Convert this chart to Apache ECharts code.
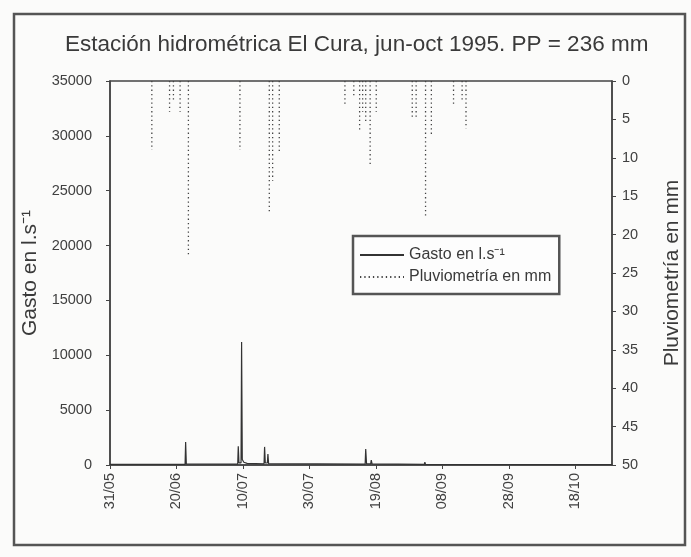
<!DOCTYPE html>
<html>
<head>
<meta charset="utf-8">
<title>Estación hidrométrica El Cura</title>
<script src="https://cdn.jsdelivr.net/npm/echarts@6/dist/echarts.min.js"></script>
<style>
    html, body { margin: 0; padding: 0; background: #efefef; }
    #chart { width: 691px; height: 557px; }
</style>
</head>
<body>
<div id="chart"></div>
<script>
/**
 * Datos
 */
const diasTotal = 151;

// Gasto en l/s
const fechasGasto = [
    '1995-05-31 00:00', '1995-06-22 14:00', '1995-06-22 18:00', '1995-06-22 23:00',
    '1995-07-08 10:00', '1995-07-08 14:00', '1995-07-08 19:00', '1995-07-09 10:00', '1995-07-09 14:00',
    '1995-07-09 19:00', '1995-07-10 06:00', '1995-07-11 06:00',
    '1995-07-16 08:00', '1995-07-16 12:00', '1995-07-16 17:00', '1995-07-17 08:00', '1995-07-17 12:00', '1995-07-17 17:00',
    '1995-08-15 18:00', '1995-08-15 22:00', '1995-08-16 04:00', '1995-08-17 10:00', '1995-08-17 14:00', '1995-08-17 20:00',
    '1995-09-02 13:00', '1995-09-02 17:00', '1995-09-02 22:00', '1995-10-29 00:00'
];
const gasto = [
    60, 60, 2100, 90,
    80, 1700, 200, 200, 11200,
    500, 250, 150,
    100, 1650, 200, 180, 1000, 120,
    80, 1450, 120, 110, 450, 100,
    60, 250, 50, 30
];

// Pluviometría en mm
const fechasLluvia = [
    '1995-06-12 14:00', '1995-06-17 22:00', '1995-06-19 02:00', '1995-06-21 02:00', '1995-06-23 14:00',
    '1995-07-09 02:00', '1995-07-17 22:00', '1995-07-18 22:00', '1995-07-20 22:00',
    '1995-08-09 16:00', '1995-08-12 08:00', '1995-08-14 02:00', '1995-08-15 00:00', '1995-08-15 22:00',
    '1995-08-17 06:00', '1995-08-19 02:00',
    '1995-08-29 22:00', '1995-08-31 02:00', '1995-09-02 22:00', '1995-09-04 16:00',
    '1995-09-11 08:00', '1995-09-13 22:00', '1995-09-15 02:00'
];
const lluvia = [
    9.0, 4.0, 2.6, 4.0, 22.7,
    9.0, 17.0, 13.0, 9.2,
    3.0, 2.0, 6.6, 4.0, 5.2,
    11.2, 4.0,
    5.0, 5.0, 17.5, 7.2,
    3.2, 2.5, 6.2
];

const xTicks = { min: 0, max: diasTotal, interval: 20 };

const DIA = 86400000;
const t0 = Date.UTC(1995, 4, 31);

// días desde el 31/05
function dias(s) {
    const [f, h] = s.split(' ');
    const [y, m, d] = f.split('-').map(Number);
    const [hh, mm] = (h || '00:00').split(':').map(Number);
    return (Date.UTC(y, m - 1, d, hh, mm) - t0) / DIA;
}

function etiquetaFecha(v) {
    if (v % 20 !== 0) return '';
    const d = new Date(t0 + v * DIA);
    const dd = String(d.getUTCDate()).padStart(2, '0');
    const mm = String(d.getUTCMonth() + 1).padStart(2, '0');
    return dd + '/' + mm;
}

const gastoData = fechasGasto.map((f, i) => [dias(f), gasto[i]]);

// cada evento de lluvia: línea vertical desde 0 hasta el valor
const lluviaData = [];
fechasLluvia.forEach((f, i) => {
    const x = dias(f);
    lluviaData.push([x, 0], [x, lluvia[i]], [x, '-']);
});

const font = 'Liberation Sans, Arial, sans-serif';
const gris = '#404040';

const option = {
    backgroundColor: '#fbfbfa',
    animation: false,
    textStyle: { fontFamily: font },
    graphic: [
        {
            type: 'rect',
            shape: { x: 14, y: 14, width: 671, height: 531 },
            style: { fill: 'none', stroke: '#555', lineWidth: 2.5 },
            silent: true
        }
    ],
    title: {
        text: 'Estación hidrométrica El Cura, jun-oct 1995. PP = 236 mm',
        left: 65,
        top: 33,
        padding: 0,
        textStyle: { fontFamily: font, fontSize: 22.5, fontWeight: 'normal', color: '#3a3a3a' }
    },
    legend: {
        orient: 'vertical',
        left: 353,
        top: 236,
        padding: [11, 8, 9, 6],
        itemGap: 6,
        itemWidth: 44,
        itemHeight: 14,
        itemStyle: { opacity: 0 },
        borderColor: '#555',
        borderWidth: 2.5,
        backgroundColor: '#fdfdfd',
        textStyle: { fontFamily: font, fontSize: 16, color: '#3a3a3a' },
        data: ['Gasto en l.s⁻¹', 'Pluviometría en mm']
    },
    grid: {
        left: 110,
        right: 73,
        top: 81,
        bottom: 92,
        show: true,
        borderColor: '#444',
        borderWidth: 1.5
    },
    xAxis: {
        type: 'value',
        min: xTicks.min,
        max: xTicks.max,
        interval: xTicks.interval,
        splitLine: { show: false },
        axisLine: { lineStyle: { color: '#444', width: 1.5 } },
        axisTick: { length: 4, lineStyle: { color: '#444' } },
        axisLabel: {
            rotate: 90,
            fontSize: 14.5,
            color: gris,
            margin: 8,
            showMaxLabel: false,
            formatter: etiquetaFecha
        }
    },
    yAxis: [
        {
            type: 'value',
            min: 0,
            max: 35000,
            interval: 5000,
            name: 'Gasto en l.s⁻¹',
            nameLocation: 'middle',
            nameRotate: 90,
            nameGap: 66,
            nameTextStyle: { fontFamily: font, fontSize: 21, color: '#3a3a3a' },
            splitLine: { show: false },
            axisLine: { show: true, lineStyle: { color: '#444', width: 1.5 } },
            axisTick: { show: true, length: 4, lineStyle: { color: '#444' } },
            axisLabel: { fontSize: 14.5, color: gris, margin: 18, formatter: v => String(v) }
        },
        {
            type: 'value',
            min: 0,
            max: 50,
            interval: 5,
            inverse: true,
            position: 'right',
            name: 'Pluviometría en mm',
            nameLocation: 'middle',
            nameRotate: 90,
            nameGap: 50,
            nameTextStyle: { fontFamily: font, fontSize: 21, color: '#3a3a3a' },
            splitLine: { show: false },
            axisLine: { show: true, lineStyle: { color: '#444', width: 1.5 } },
            axisTick: { show: true, length: 4, lineStyle: { color: '#444' } },
            axisLabel: { fontSize: 14.5, color: gris, margin: 10 }
        }
    ],
    series: [
        {
            name: 'Gasto en l.s⁻¹',
            type: 'line',
            yAxisIndex: 0,
            symbol: 'none',
            data: gastoData,
            lineStyle: { color: '#333', width: 1.2 },
            itemStyle: { color: '#333' }
        },
        {
            name: 'Pluviometría en mm',
            type: 'line',
            yAxisIndex: 1,
            symbol: 'none',
            connectNulls: false,
            data: lluviaData,
            lineStyle: { color: '#444', width: 1.3, type: [1.3, 3] },
            itemStyle: { color: '#444' }
        }
    ]
};

const chart = echarts.init(document.getElementById('chart'));
chart.setOption(option);
</script>
</body>
</html>
